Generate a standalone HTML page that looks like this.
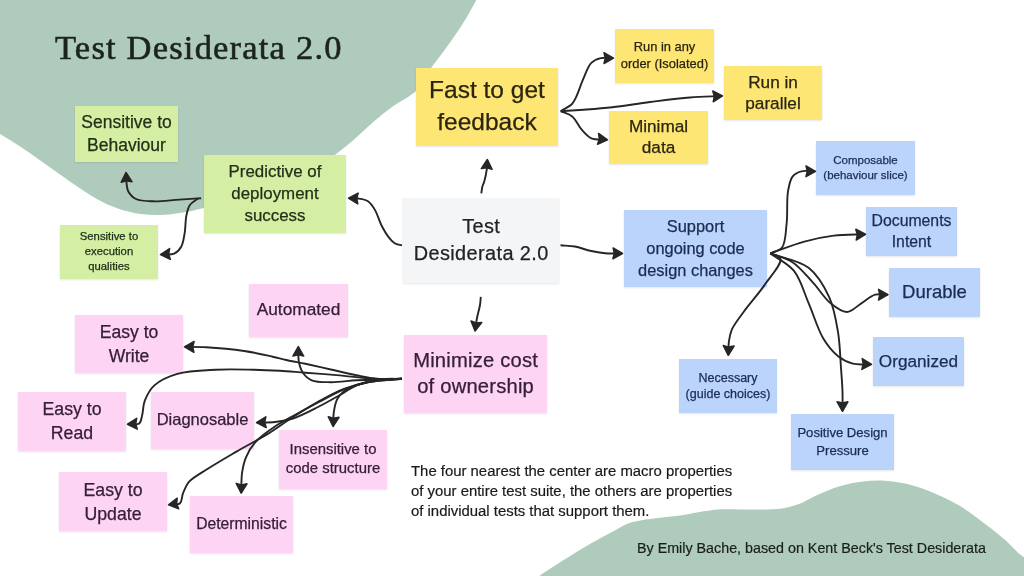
<!DOCTYPE html>
<html><head><meta charset="utf-8"><title>Test Desiderata 2.0</title>
<style>
html,body{margin:0;padding:0;background:#fff;}
body{width:1024px;height:576px;position:relative;overflow:hidden;font-family:"Liberation Sans",sans-serif;}
.n{position:absolute;box-shadow:0 1px 2px rgba(0,0,0,0.10);will-change:transform;}
.i{position:absolute;left:-20px;right:-20px;text-align:center;white-space:nowrap;-webkit-text-stroke:0.25px currentColor;}
.t{position:absolute;white-space:nowrap;will-change:transform;-webkit-text-stroke:0.2px currentColor;}
svg{position:absolute;left:0;top:0;}
</style></head><body>
<svg width="1024" height="576" viewBox="0 0 1024 576">
<path d="M477.0,-1.0 C474.0,4.3 471.1,9.8 468.0,15.0 C465.1,20.0 462.4,24.4 459.0,29.5 C455.1,35.3 450.3,42.1 446.0,48.0 C442.0,53.6 437.7,58.9 434.0,64.0 C430.7,68.5 427.9,72.6 425.0,77.0 C422.1,81.4 420.6,86.1 416.4,90.4 C410.7,96.2 399.3,101.6 392.0,107.0 C385.6,111.7 380.4,116.0 374.7,120.8 C368.9,125.8 363.2,131.3 357.4,136.4 C351.7,141.4 346.1,146.2 340.0,151.0 C333.6,156.1 327.5,161.1 320.0,166.0 C311.2,171.8 300.1,177.9 290.0,183.0 C280.1,187.9 270.2,192.6 260.0,196.0 C250.1,199.3 239.8,200.9 230.0,203.0 C220.8,205.0 211.1,206.5 203.0,208.2 C196.3,209.6 190.9,211.2 184.6,212.3 C178.0,213.4 170.9,214.5 164.0,214.8 C157.2,215.1 150.4,215.1 143.6,214.3 C136.7,213.5 129.8,212.2 123.0,210.2 C116.1,208.1 109.2,205.3 102.5,202.0 C95.5,198.5 88.8,194.1 82.0,189.7 C75.1,185.2 68.3,180.2 61.5,175.4 C54.7,170.6 47.8,165.8 41.0,161.0 C34.2,156.2 27.5,151.3 20.5,146.7 C13.5,142.1 6.2,137.9 -1.0,133.5 L-1,-1 Z" fill="#afcbbb"/>
<path d="M538.0,577.0 C538.7,576.5 538.9,576.2 540.0,575.4 C543.7,572.7 556.9,564.2 565.4,558.9 C573.8,553.6 582.3,548.5 590.8,543.6 C599.2,538.8 609.2,533.4 616.2,529.7 C621.1,527.1 624.6,524.9 628.9,523.3 C633.0,521.8 636.6,521.2 641.6,520.3 C648.6,519.0 659.6,517.9 667.0,517.0 C672.7,516.3 676.6,516.0 682.2,515.2 C689.0,514.2 698.5,512.1 705.0,511.1 C709.9,510.3 712.8,509.7 717.8,509.4 C724.8,508.9 734.7,509.4 743.1,509.4 C751.6,509.4 761.7,509.6 768.5,509.4 C773.1,509.3 775.7,509.4 780.0,508.8 C785.6,508.0 793.0,506.2 799.0,504.0 C804.9,501.8 809.6,498.4 815.7,495.7 C822.9,492.5 831.5,488.6 839.6,486.2 C847.4,483.9 855.4,482.3 863.4,481.4 C871.3,480.5 879.3,480.4 887.2,481.0 C895.2,481.6 903.1,483.0 911.0,485.0 C919.0,487.1 927.0,490.1 934.9,493.4 C943.0,496.8 950.9,500.7 958.7,505.3 C966.8,510.1 974.7,516.1 982.5,522.0 C990.5,528.0 999.8,535.2 1006.3,541.0 C1011.1,545.3 1014.8,549.8 1018.3,552.9 C1020.8,555.1 1022.8,556.3 1025.0,558.0 L1025,577 Z" fill="#afcbbb"/>
</svg>
<div class="t" style="left:55px;top:25px;font-family:'Liberation Serif',serif;font-size:34.5px;line-height:44px;color:#1c2420;letter-spacing:1.2px;-webkit-text-stroke:0.6px #1c2420">Test Desiderata 2.0</div>
<div class="n" style="left:75px;top:106px;width:103px;height:56px;background:#d4efa3;color:#22301a"><div class="i" style="top:5.44px;font-size:17.5px;line-height:23px;letter-spacing:0px;padding-left:0px">Sensitive to<br>Behaviour</div></div><div class="n" style="left:204px;top:155px;width:142px;height:78px;background:#d4efa3;color:#22301a"><div class="i" style="top:6.14px;font-size:16.9px;line-height:22px;letter-spacing:0px;padding-left:0px">Predictive of<br>deployment<br>success</div></div><div class="n" style="left:60px;top:225px;width:98px;height:54px;background:#d4efa3;color:#22301a"><div class="i" style="top:4.33px;font-size:11.3px;line-height:14.7px;letter-spacing:0px;padding-left:0px">Sensitive to<br>execution<br>qualities</div></div><div class="n" style="left:403px;top:198px;width:156px;height:85px;background:#f4f5f7;color:#222326"><div class="i" style="top:14.55px;font-size:19.9px;line-height:27.1px;letter-spacing:0.4px;padding-left:0.4px">Test<br>Desiderata 2.0</div></div><div class="n" style="left:416px;top:68px;width:142px;height:78px;background:#fee674;color:#2a2512"><div class="i" style="top:5.91px;font-size:24.5px;line-height:31.6px;letter-spacing:0px;padding-left:0px">Fast to get<br>feedback</div></div><div class="n" style="left:615px;top:29px;width:99px;height:54px;background:#fee674;color:#2a2512"><div class="i" style="top:10.13px;font-size:12.9px;line-height:16.4px;letter-spacing:0px;padding-left:0px">Run in any<br>order (Isolated)</div></div><div class="n" style="left:724px;top:66px;width:98px;height:54px;background:#fee674;color:#2a2512"><div class="i" style="top:5.54px;font-size:17.2px;line-height:21.8px;letter-spacing:0px;padding-left:0px">Run in<br>parallel</div></div><div class="n" style="left:609px;top:111px;width:99px;height:53px;background:#fee674;color:#2a2512"><div class="i" style="top:4.64px;font-size:17.2px;line-height:21.8px;letter-spacing:0px;padding-left:0px">Minimal<br>data</div></div><div class="n" style="left:624px;top:210px;width:143px;height:77px;background:#bbd4fb;color:#1b2c50"><div class="i" style="top:6.42px;font-size:16.4px;line-height:21.8px;letter-spacing:0px;padding-left:0px">Support<br>ongoing code<br>design changes</div></div><div class="n" style="left:816px;top:141px;width:99px;height:54px;background:#bbd4fb;color:#1b2c50"><div class="i" style="top:11.97px;font-size:11.5px;line-height:14.7px;letter-spacing:0px;padding-left:0px">Composable<br>(behaviour slice)</div></div><div class="n" style="left:866px;top:207px;width:91px;height:49px;background:#bbd4fb;color:#1b2c50"><div class="i" style="top:3.43px;font-size:15.8px;line-height:21px;letter-spacing:0px;padding-left:0px">Documents<br>Intent</div></div><div class="n" style="left:889px;top:268px;width:91px;height:49px;background:#bbd4fb;color:#1b2c50"><div class="i" style="top:12.89px;font-size:18.5px;line-height:22px;letter-spacing:0px;padding-left:0px">Durable</div></div><div class="n" style="left:873px;top:337px;width:91px;height:49px;background:#bbd4fb;color:#1b2c50"><div class="i" style="top:13.04px;font-size:17.2px;line-height:22px;letter-spacing:0px;padding-left:0px">Organized</div></div><div class="n" style="left:679px;top:359px;width:98px;height:54px;background:#bbd4fb;color:#1b2c50"><div class="i" style="top:10.82px;font-size:12.5px;line-height:16.5px;letter-spacing:0px;padding-left:0px">Necessary<br>(guide choices)</div></div><div class="n" style="left:791px;top:414px;width:103px;height:56px;background:#bbd4fb;color:#1b2c50"><div class="i" style="top:10.01px;font-size:13.1px;line-height:17.5px;letter-spacing:0px;padding-left:0px">Positive Design<br>Pressure</div></div><div class="n" style="left:404px;top:335px;width:143px;height:78px;background:#fdd4f3;color:#352035"><div class="i" style="top:11.80px;font-size:20.2px;line-height:26.2px;letter-spacing:0.2px;padding-left:0.2px">Minimize cost<br>of ownership</div></div><div class="n" style="left:249px;top:284px;width:99px;height:53px;background:#fdd4f3;color:#352035"><div class="i" style="top:14.31px;font-size:17.3px;line-height:22px;letter-spacing:0px;padding-left:0px">Automated</div></div><div class="n" style="left:75px;top:315px;width:108px;height:58px;background:#fdd4f3;color:#352035"><div class="i" style="top:5.15px;font-size:17.6px;line-height:24.1px;letter-spacing:0px;padding-left:0px">Easy to<br>Write</div></div><div class="n" style="left:18px;top:392px;width:108px;height:59px;background:#fdd4f3;color:#352035"><div class="i" style="top:5.12px;font-size:17.7px;line-height:24.1px;letter-spacing:0px;padding-left:0px">Easy to<br>Read</div></div><div class="n" style="left:151px;top:392px;width:103px;height:57px;background:#fdd4f3;color:#352035"><div class="i" style="top:16.48px;font-size:16.5px;line-height:22px;letter-spacing:0px;padding-left:0px">Diagnosable</div></div><div class="n" style="left:279px;top:430px;width:108px;height:59px;background:#fdd4f3;color:#352035"><div class="i" style="top:10.49px;font-size:14.9px;line-height:18.7px;letter-spacing:0px;padding-left:0px">Insensitive to<br>code structure</div></div><div class="n" style="left:59px;top:472px;width:108px;height:59px;background:#fdd4f3;color:#352035"><div class="i" style="top:5.57px;font-size:17.7px;line-height:24px;letter-spacing:0px;padding-left:0px">Easy to<br>Update</div></div><div class="n" style="left:190px;top:496px;width:103px;height:57px;background:#fdd4f3;color:#352035"><div class="i" style="top:17.96px;font-size:15.7px;line-height:20px;letter-spacing:0px;padding-left:0px">Deterministic</div></div>
<div class="t" style="left:410.5px;top:461.89px;font-size:14.9px;line-height:19.9px;color:#1a1a1a">The four nearest the center are macro properties<br>of your entire test suite, the others are properties<br>of individual tests that support them.</div>
<div class="t" style="left:636.5px;top:539.05px;font-size:14.3px;line-height:18px;color:#1a1f1c">By Emily Bache, based on Kent Beck's Test Desiderata</div>
<svg width="1024" height="576" viewBox="0 0 1024 576" style="position:absolute;left:0;top:0">
<defs><marker id="a" markerWidth="16" markerHeight="16" refX="10.5" refY="8" orient="auto" markerUnits="userSpaceOnUse"><path d="M11,8 L1.5,2.6 L2.8,8 L1.5,13.4 Z" fill="#262626" stroke="#262626" stroke-width="1.5" stroke-linejoin="round"/></marker></defs>
<g fill="none" stroke="#262626" stroke-width="1.9" stroke-linecap="butt" stroke-linejoin="round" marker-end="url(#a)">
<path d="M402.0,245.4 C399.6,244.7 396.9,244.5 394.7,243.2 C392.4,241.8 390.6,239.6 388.6,237.1 C386.1,233.9 383.5,229.3 381.3,225.0 C379.0,220.4 377.6,214.6 375.2,210.4 C373.1,206.8 371.0,203.3 368.0,201.3 C365.2,199.4 361.3,199.0 358.0,198.5 C354.9,198.0 352.0,198.3 349.0,198.2"/>
<path d="M201.1,198.2 C193.9,198.7 187.0,199.1 179.4,199.6 C171.1,200.1 161.2,201.6 153.4,201.3 C147.0,201.1 140.4,201.2 136.0,199.0 C132.5,197.3 129.8,194.1 128.2,191.2 C126.8,188.6 126.9,185.6 126.5,182.6 C126.1,179.5 126.2,176.2 126.0,173.0"/>
<path d="M198.0,198.6 C195.3,200.7 191.8,202.2 189.9,205.0 C187.9,207.9 187.2,211.6 186.4,215.6 C185.3,220.6 185.6,227.5 184.7,232.9 C183.8,237.8 183.3,243.2 181.2,246.8 C179.5,249.8 177.2,252.3 174.2,253.7 C170.7,255.3 165.4,254.3 161.0,254.6"/>
<path d="M481.3,193.3 C481.7,190.9 481.9,188.1 482.5,186.0 C483.0,184.4 483.7,183.5 484.2,181.7 C485.1,178.6 486.3,173.1 486.8,169.2 C487.2,165.9 487.1,163.1 487.3,160.0"/>
<path d="M560.7,111.2 C564.5,108.8 569.4,106.7 572.0,104.0 C574.0,101.9 574.6,100.2 576.0,97.3 C578.3,92.6 580.9,84.2 583.6,78.2 C586.0,72.8 587.9,66.3 591.3,62.9 C594.0,60.2 597.3,58.9 600.8,58.1 C604.5,57.2 608.9,58.1 613.0,58.1"/>
<path d="M560.7,111.2 C568.3,110.7 575.5,110.3 583.6,109.7 C592.6,109.0 602.1,108.3 612.3,107.2 C624.0,105.9 637.2,103.6 650.0,102.0 C663.1,100.4 677.4,98.5 690.0,97.5 C701.2,96.6 711.3,96.5 722.0,96.0"/>
<path d="M560.7,111.2 C564.5,112.9 568.9,113.7 572.2,116.4 C576.0,119.5 578.3,125.9 581.7,129.7 C584.7,133.1 587.4,136.6 591.3,138.3 C595.6,140.2 601.8,139.2 607.0,139.7"/>
<path d="M560.5,245.3 C565.3,245.7 570.2,245.6 575.0,246.5 C580.0,247.4 585.0,249.7 590.0,250.8 C595.0,251.9 599.8,252.8 605.0,253.3 C610.5,253.8 616.3,253.4 622.0,253.5"/>
<path d="M770.3,253.4 C774.2,251.4 779.4,251.1 782.1,247.5 C785.8,242.6 785.6,232.4 786.6,223.8 C787.8,213.9 786.5,199.9 788.0,191.3 C789.0,185.4 789.9,180.0 792.5,176.6 C794.7,173.8 797.9,172.2 801.3,171.3 C805.2,170.2 810.4,171.3 815.0,171.3"/>
<path d="M770.3,253.4 C781.6,249.5 793.3,244.6 804.3,241.6 C814.4,238.8 823.8,236.8 833.8,235.6 C844.0,234.4 854.6,234.7 865.0,234.3"/>
<path d="M770.3,253.4 C777.7,256.3 785.7,257.7 792.5,262.2 C800.1,267.2 806.7,275.9 813.2,282.9 C819.5,289.7 824.6,298.6 830.9,303.6 C836.0,307.7 841.7,312.2 846.9,312.0 C852.0,311.9 856.9,306.0 861.7,303.1 C866.3,300.3 870.6,296.0 875.2,294.7 C879.2,293.5 883.4,294.7 887.5,294.7"/>
<path d="M770.3,253.4 C778.1,259.2 787.6,263.0 793.8,270.7 C800.7,279.2 803.8,292.0 808.6,303.1 C813.6,314.6 817.6,329.1 823.3,338.6 C827.7,345.9 832.7,352.0 838.1,356.3 C842.7,359.9 847.5,362.3 852.8,363.7 C858.4,365.1 864.9,364.1 871.0,364.3"/>
<path d="M770.3,253.4 C783.1,258.2 798.6,260.0 808.6,267.7 C817.9,274.9 824.3,286.4 829.2,297.2 C834.2,308.1 836.1,320.8 838.1,332.7 C840.0,344.4 840.2,357.4 841.0,368.0 C841.6,376.7 842.3,384.2 842.5,391.7 C842.7,398.4 842.5,404.4 842.5,410.8"/>
<path d="M770.3,253.4 C773.7,255.2 779.6,255.7 780.5,258.9 C781.9,264.1 770.3,276.7 764.3,285.4 C758.1,294.4 749.4,303.9 743.6,312.0 C739.0,318.4 734.2,324.2 731.8,329.7 C730.0,333.9 729.5,337.4 728.9,341.5 C728.3,345.8 728.5,350.4 728.3,354.8"/>
<path d="M480.8,296.8 C480.5,299.5 480.5,302.0 480.0,305.0 C479.4,308.9 477.8,313.7 477.0,318.0 C476.2,322.2 475.7,326.4 475.1,330.6"/>
<path d="M402.0,378.8 C394.3,378.9 386.6,379.6 379.0,379.0 C371.4,378.4 364.0,376.7 356.2,375.2 C347.9,373.6 339.3,371.4 330.8,369.5 C322.3,367.6 313.3,365.5 305.4,363.8 C298.6,362.4 292.1,361.3 286.3,360.0 C281.4,358.9 278.1,357.9 272.8,356.7 C265.1,355.0 254.5,352.5 244.2,351.0 C232.4,349.2 216.9,347.8 206.0,347.2 C198.0,346.7 192.0,346.9 185.0,346.8"/>
<path d="M402.0,378.8 C394.3,378.9 386.6,379.3 379.0,379.0 C371.4,378.7 364.0,377.8 356.2,377.1 C348.0,376.4 339.3,375.3 330.8,374.6 C322.3,373.9 313.9,373.3 305.4,372.7 C296.9,372.1 288.5,371.3 280.0,370.8 C271.3,370.3 263.3,369.9 253.7,369.7 C242.2,369.5 228.2,369.0 215.5,369.7 C202.7,370.4 188.2,370.7 177.3,373.9 C168.4,376.5 160.0,380.3 154.4,385.4 C149.7,389.6 146.9,395.4 144.8,400.7 C142.9,405.6 143.2,411.8 142.0,416.0 C141.2,419.0 141.1,422.2 139.1,423.6 C136.8,425.3 131.7,424.0 128.0,424.2"/>
<path d="M402.0,378.8 C394.3,379.0 386.6,379.2 379.0,379.5 C371.4,379.7 364.0,379.9 356.2,380.3 C348.0,380.8 338.7,382.3 330.8,382.2 C324.0,382.1 316.6,382.4 311.7,380.3 C307.9,378.7 305.0,375.7 302.9,372.7 C300.8,369.8 299.7,365.7 299.0,362.5 C298.4,359.9 298.4,357.5 298.3,355.0 C298.2,352.4 298.3,349.7 298.3,347.0"/>
<path d="M402.0,378.8 C394.3,379.2 385.1,379.4 379.0,380.0 C374.9,380.4 372.4,380.8 368.9,381.6 C364.9,382.5 360.4,383.8 356.2,385.4 C351.9,387.1 346.8,389.1 343.5,391.7 C340.7,393.9 338.7,396.4 337.1,399.4 C335.4,402.7 334.7,406.7 334.0,410.8 C333.2,415.5 333.4,420.9 333.1,426.0"/>
<path d="M402.0,378.8 C394.3,379.0 386.6,378.4 379.0,379.5 C371.3,380.6 362.4,382.8 356.0,385.5 C351.0,387.6 348.4,390.2 343.5,393.0 C336.5,397.0 326.5,402.7 318.0,407.0 C309.7,411.2 300.8,416.0 293.0,418.5 C286.6,420.5 281.0,421.3 275.0,422.0 C269.0,422.7 263.0,422.3 257.0,422.5"/>
<path d="M402.0,378.8 C391.0,379.9 379.2,380.1 369.0,382.0 C359.9,383.7 351.9,386.0 343.5,389.2 C334.8,392.5 326.4,397.3 318.0,401.9 C309.5,406.6 301.4,411.7 293.0,417.0 C284.4,422.5 276.1,428.8 267.0,434.4 C257.3,440.3 246.4,445.8 236.4,451.6 C226.7,457.3 216.3,463.3 207.8,468.8 C200.7,473.4 192.9,477.3 188.7,482.1 C185.6,485.7 184.4,489.9 182.9,493.6 C181.6,496.9 182.2,501.3 180.0,503.2 C177.7,505.2 172.7,504.2 169.0,504.7"/>
<path d="M402.0,378.8 C391.0,379.9 379.2,380.0 369.0,382.0 C359.9,383.8 351.8,386.2 343.5,389.5 C334.8,392.9 326.4,398.1 318.0,402.5 C309.6,406.9 300.7,411.7 293.0,416.0 C286.4,419.7 280.6,422.6 274.6,426.7 C268.1,431.1 260.4,436.4 255.5,442.0 C251.3,446.8 248.2,452.0 246.0,457.3 C243.9,462.2 242.9,467.1 242.1,472.6 C241.2,478.8 241.5,485.9 241.2,492.6"/>
</g></svg>
</body></html>
